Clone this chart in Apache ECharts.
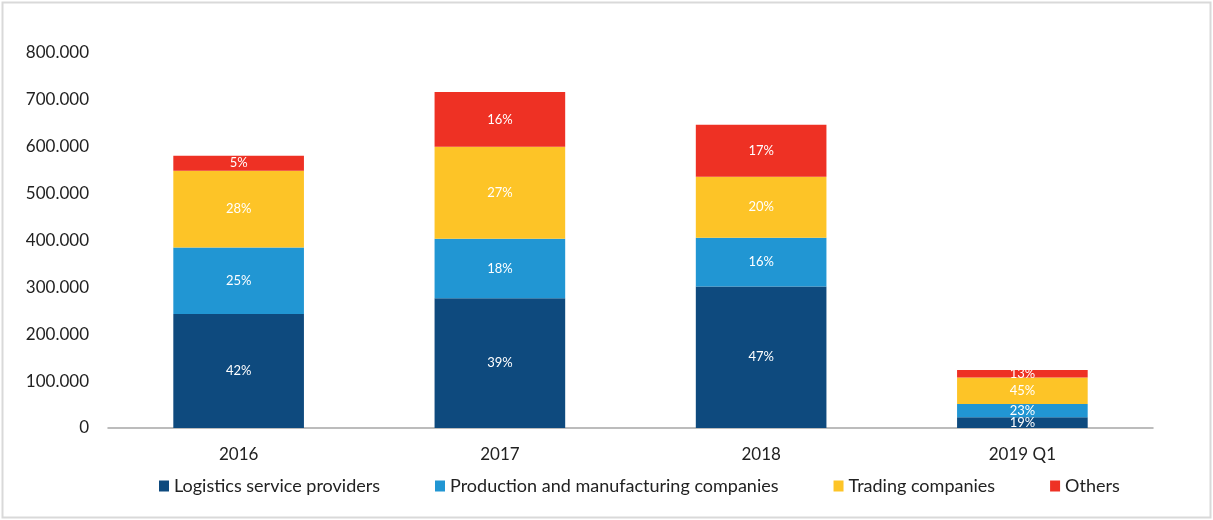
<!DOCTYPE html>
<html>
<head>
<meta charset="utf-8">
<script src="https://cdn.jsdelivr.net/npm/echarts@6/dist/echarts.min.js"></script>
<style>
html,body{margin:0;padding:0;background:#fff;}
#chart{width:1213px;height:520px;}
</style>
</head>
<body>
<div id="chart"></div>
<script>
const categories = ['2016', '2017', '2018', '2019 Q1'];
const seriesNames = ['Logistics service providers', 'Production and manufacturing companies', 'Trading companies', 'Others'];
const logistics = [243, 277, 302, 23];
const production = [142, 127, 104, 28];
const trading = [164, 196, 130, 57];
const others = [32, 117, 111, 16];
const logisticsPct = ['42%', '39%', '47%', '19%'];
const productionPct = ['25%', '18%', '16%', '23%'];
const tradingPct = ['28%', '27%', '20%', '45%'];
const othersPct = ['5%', '16%', '17%', '13%'];
const yTicks = [0, 100, 200, 300, 400, 500, 600, 700, 800];

const colors = ['#0e4a7e', '#2196d3', '#fdc427', '#ee3124'];
const FONT = 'Lato';

function mk(name, data, pct, color) {
  return {
    name: name,
    type: 'bar',
    stack: 'total',
    barWidth: '50%',
    data: data,
    itemStyle: { color: color },
    label: {
      show: true,
      position: 'inside',
      color: '#fff',
      fontFamily: FONT,
      fontSize: 13,
      formatter: p => pct[p.dataIndex]
    }
  };
}

const chart = echarts.init(document.getElementById('chart'));
chart.setOption({
  animation: false,
  color: colors,
  graphic: [{
    type: 'rect',
    shape: { x: 2.5, y: 2.5, width: 1208, height: 515 },
    style: { fill: 'none', stroke: '#d9d9d9', lineWidth: 2 },
    silent: true
  }],
  grid: { left: 108, right: 60, top: 53, bottom: 92, containLabel: false },
  legend: {
    bottom: 20,
    left: 154,
    itemWidth: 10,
    itemHeight: 11,
    itemGap: 55,
    icon: 'rect',
    textStyle: { fontFamily: FONT, fontSize: 18, color: '#222' },
    data: seriesNames
  },
  xAxis: {
    type: 'category',
    data: categories,
    axisLine: { lineStyle: { color: '#a6a6a6', width: 1.5 } },
    axisTick: { show: false },
    axisLabel: { fontFamily: FONT, fontSize: 17, color: '#222', margin: 18 }
  },
  yAxis: {
    type: 'value',
    min: yTicks[0],
    max: yTicks[yTicks.length - 1],
    interval: 100,
    splitLine: { show: false },
    axisLine: { show: false },
    axisTick: { show: false },
    axisLabel: {
      fontFamily: FONT, fontSize: 17, color: '#222', margin: 19,
      formatter: v => v === 0 ? '0' : v + '.000'
    }
  },
  series: [
    mk(seriesNames[0], logistics, logisticsPct, colors[0]),
    mk(seriesNames[1], production, productionPct, colors[1]),
    mk(seriesNames[2], trading, tradingPct, colors[2]),
    mk(seriesNames[3], others, othersPct, colors[3])
  ]
});
</script>
</body>
</html>
